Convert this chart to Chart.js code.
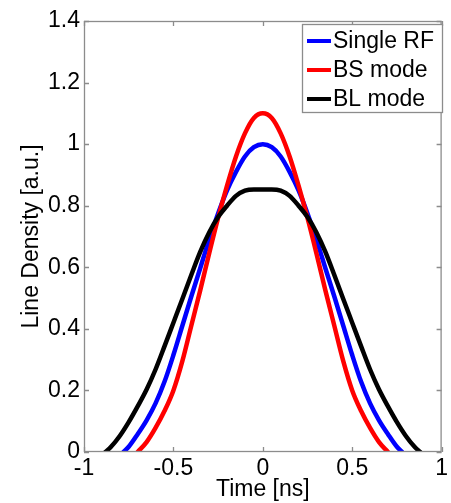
<!DOCTYPE html>
<html>
<head>
<meta charset="utf-8">
<script src="https://cdn.jsdelivr.net/npm/chart.js@4"></script>
<style>
html,body{margin:0;padding:0;background:#fff;}
canvas{display:block;}
</style>
</head>
<body>
<canvas id="c" width="451" height="503"></canvas>
<script>
// ---- data ----
const seriesLabels = ['Single RF', 'BS mode', 'BL mode'];
const seriesColors = ['#0000ff', '#ff0000', '#000000'];

const timeSingleRF = [-0.78,-0.75,-0.70,-0.65,-0.60,-0.55,-0.50,-0.45,-0.40,-0.35,-0.30,-0.25,-0.20,-0.15,-0.10,-0.05,0,
                      0.05,0.10,0.15,0.20,0.25,0.30,0.35,0.40,0.45,0.50,0.55,0.60,0.65,0.70,0.75,0.78];
const densSingleRF = [0,0.017,0.058,0.103,0.158,0.228,0.315,0.41,0.505,0.597,0.69,0.775,0.85,0.91,0.96,0.99,1.0,
                      0.99,0.96,0.91,0.85,0.775,0.69,0.597,0.505,0.41,0.315,0.228,0.158,0.103,0.058,0.017,0];

const timeBS = [-0.70,-0.65,-0.60,-0.55,-0.50,-0.45,-0.40,-0.35,-0.30,-0.25,-0.20,-0.15,-0.10,-0.05,0,
                0.05,0.10,0.15,0.20,0.25,0.30,0.35,0.40,0.45,0.50,0.55,0.60,0.65,0.70];
const densBS = [0,0.032,0.078,0.133,0.20,0.295,0.41,0.525,0.645,0.76,0.865,0.96,1.035,1.085,1.10,
                1.085,1.035,0.96,0.865,0.76,0.645,0.525,0.41,0.295,0.20,0.133,0.078,0.032,0];

const timeBL = [-0.88,-0.85,-0.80,-0.75,-0.70,-0.65,-0.60,-0.55,-0.50,-0.45,-0.40,-0.35,-0.30,-0.25,-0.20,-0.15,-0.10,-0.05,0,
                0.05,0.10,0.15,0.20,0.25,0.30,0.35,0.40,0.45,0.50,0.55,0.60,0.65,0.70,0.75,0.80,0.85,0.88];
const densBL = [0,0.016,0.052,0.097,0.148,0.203,0.268,0.343,0.42,0.497,0.575,0.65,0.713,0.763,0.80,0.832,0.849,0.853,0.853,
                0.853,0.849,0.832,0.80,0.763,0.713,0.65,0.575,0.497,0.42,0.343,0.268,0.203,0.148,0.097,0.052,0.016,0];

const xTickValues = [-1, -0.5, 0, 0.5, 1];
const xTickLabels = ['-1', '-0.5', '0', '0.5', '1'];
const yTickValues = [0, 0.2, 0.4, 0.6, 0.8, 1, 1.2, 1.4];
const yTickLabels = ['0', '0.2', '0.4', '0.6', '0.8', '1', '1.2', '1.4'];
const xTitle = 'Time [ns]';
const yTitle = 'Line Density [a.u.]';

function pts(t, v) { return t.map((x, i) => ({x: x, y: v[i]})); }

const FONT = 'Arial, "Liberation Sans", sans-serif';
const FSIZE = 23;
const AXIS_GREY = '#8c8c8c';

const boxTicks = {
  id: 'boxTicks',
  afterDatasetsDraw(chart) {
    const {ctx, chartArea: a, scales: {x, y}} = chart;
    ctx.save();
    ctx.strokeStyle = AXIS_GREY;
    ctx.lineWidth = 1.3;
    const L = 5;
    ctx.beginPath();
    xTickValues.forEach(v => {
      const px = Math.round(x.getPixelForValue(v)) + 0.5;
      ctx.moveTo(px, a.bottom); ctx.lineTo(px, a.bottom - L);
      ctx.moveTo(px, a.top); ctx.lineTo(px, a.top + L);
    });
    yTickValues.forEach(v => {
      const py = Math.round(y.getPixelForValue(v)) + 0.5;
      ctx.moveTo(a.left, py); ctx.lineTo(a.left + L, py);
      ctx.moveTo(a.right, py); ctx.lineTo(a.right - L, py);
    });
    ctx.stroke();
    ctx.strokeRect(a.left + 0.5, a.top + 0.5, a.right - a.left - 1, a.bottom - a.top - 1);

    // legend box (inside the axes, top-right)
    const bx = 302, by = 24, bw = 140, bh = 88;
    ctx.fillStyle = '#ffffff';
    ctx.fillRect(bx, by, bw, bh);
    ctx.strokeStyle = AXIS_GREY;
    ctx.lineWidth = 1.3;
    ctx.strokeRect(bx + 0.5, by + 0.5, bw, bh);
    ctx.font = FSIZE + 'px ' + FONT;
    ctx.textBaseline = 'middle';
    ctx.textAlign = 'left';
    chart.data.datasets.forEach((ds, i) => {
      const ry = by + 17 + i * 29;
      ctx.strokeStyle = ds.borderColor;
      ctx.lineWidth = 4;
      ctx.beginPath();
      ctx.moveTo(bx + 5, ry); ctx.lineTo(bx + 29, ry);
      ctx.stroke();
      ctx.fillStyle = '#000';
      ctx.fillText(ds.label, bx + 31, ry + 1);
    });
    ctx.restore();
  }
};

new Chart(document.getElementById('c'), {
  type: 'line',
  data: {
    datasets: [
      {label: seriesLabels[0], data: pts(timeSingleRF, densSingleRF), borderColor: seriesColors[0], order: 3},
      {label: seriesLabels[1], data: pts(timeBS, densBS), borderColor: seriesColors[1], order: 2},
      {label: seriesLabels[2], data: pts(timeBL, densBL), borderColor: seriesColors[2], order: 1}
    ]
  },
  options: {
    responsive: false,
    animation: false,
    devicePixelRatio: 1,
    layout: {padding: {top: 21, right: 6, left: 0, bottom: 0}},
    elements: {
      line: {borderWidth: 4.5, tension: 0.4, cubicInterpolationMode: 'monotone', fill: false, borderCapStyle: 'round', borderJoinStyle: 'round'},
      point: {radius: 0}
    },
    plugins: {legend: {display: false}, tooltip: {enabled: false}},
    scales: {
      x: {
        type: 'linear', min: -1, max: 1,
        afterFit(s) { s.height = 51; },
        afterBuildTicks(s) { s.ticks = xTickValues.map(v => ({value: v})); },
        grid: {display: false, drawTicks: false},
        border: {display: false},
        ticks: {
          color: '#000', padding: 3, maxRotation: 0, autoSkip: false,
          font: {family: FONT, size: FSIZE},
          callback: (v) => xTickLabels[xTickValues.indexOf(v)]
        },
        title: {display: true, text: xTitle, color: '#000', font: {family: FONT, size: FSIZE}, padding: {top: 0, bottom: 0}}
      },
      y: {
        type: 'linear', min: 0, max: 1.4,
        afterFit(s) { s.width = 84; },
        afterBuildTicks(s) { s.ticks = yTickValues.map(v => ({value: v})); },
        grid: {display: false, drawTicks: false},
        border: {display: false},
        ticks: {
          color: '#000', padding: 4, autoSkip: false,
          font: {family: FONT, size: FSIZE},
          callback: (v) => yTickLabels[yTickValues.indexOf(v)]
        },
        title: {display: true, text: yTitle, color: '#000', font: {family: FONT, size: FSIZE}, padding: {top: 18, bottom: 0}}
      }
    }
  },
  plugins: [boxTicks]
});
</script>
</body>
</html>
